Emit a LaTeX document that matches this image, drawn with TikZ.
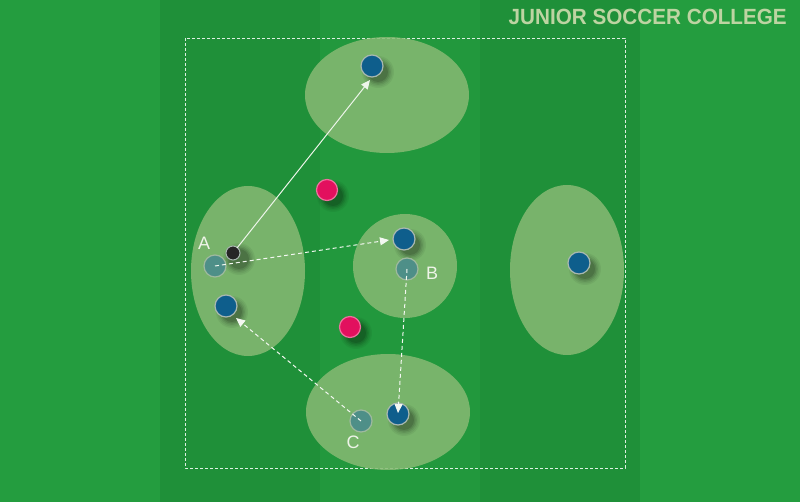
\documentclass[tikz,border=0pt]{standalone}
\usepackage{fontspec}
\setmainfont{Liberation Sans}
\usetikzlibrary{arrows.meta}
\definecolor{grassA}{HTML}{249D3F}
\definecolor{grassB}{HTML}{1F9039}
\definecolor{zone}{HTML}{88BA74}
\definecolor{player}{HTML}{0E5E8C}
\definecolor{ghost}{HTML}{4E8F88}
\definecolor{cone}{HTML}{E2105E}
\definecolor{rim}{HTML}{A8B8B0}
\definecolor{titlecol}{HTML}{BDD4A2}
\definecolor{labelcol}{HTML}{EEF4E8}
\tikzset{
  zonearea/.style={fill=zone, fill opacity=0.85, draw=none},
  playernode/.style={circle, fill=player, draw=rim, line width=1.2pt, minimum size=22pt, inner sep=0pt},
  ghostnode/.style={circle, fill=ghost, draw=rim!70!zone, line width=1.2pt, minimum size=22pt, inner sep=0pt},
  conenode/.style={circle, fill=cone, draw=cone!60!white, line width=1.2pt, minimum size=21pt, inner sep=0pt},
  ballnode/.style={circle, fill=black!85, draw=rim, line width=1pt, minimum size=14pt, inner sep=0pt},
  lbl/.style={text=labelcol, font=\fontsize{18}{18}\selectfont, inner sep=0pt},
  runarrow/.style={draw=white!90!zone, line width=1pt, dash pattern=on 4pt off 3pt, -{Triangle[length=9pt,width=8pt]}},
  passarrow/.style={draw=white!85!zone, line width=1pt, -{Triangle[length=9pt,width=8pt]}},
}
\newcommand{\dropshadow}[2]{%
  \foreach \r/\o in {16/0.05,14.5/0.06,13/0.08,11.5/0.1,10/0.12}{
    \fill[black, opacity=\o] (#1+6,#2+6) circle[radius=\r];
  }}
\begin{document}
\begin{tikzpicture}[x=1pt,y=-1pt]
\useasboundingbox (0,0) rectangle (800,502);
% grass
\fill[grassA] (0,0) rectangle (800,502);
\fill[grassB] (160,0) rectangle (320,502);
\fill[grassB] (480,0) rectangle (640,502);
\fill[grassA!60!grassB] (320,0) rectangle (480,502);
% title
\node[anchor=east, text=titlecol, inner sep=0pt] (title) at (787,17)
  {\scalebox{0.94}[1]{\fontsize{22}{22}\selectfont\bfseries JUNIOR SOCCER COLLEGE}};
% field boundary
\draw[white!85!grassA, line width=0.8pt, dash pattern=on 3pt off 2pt] (185,38) rectangle (625,468);
% zones
\fill[zonearea] (387,95) ellipse[x radius=82, y radius=58];
\fill[zonearea] (248,271) ellipse[x radius=57, y radius=85];
\fill[zonearea] (405,266) ellipse[x radius=52, y radius=52];
\fill[zonearea] (567,270) ellipse[x radius=57, y radius=85];
\fill[zonearea] (388,412) ellipse[x radius=82, y radius=58];
% shadows
\dropshadow{372}{66}
\dropshadow{404}{239}
\dropshadow{226}{306}
\dropshadow{579}{263}
\dropshadow{398}{414}
\dropshadow{327}{190}
\dropshadow{350}{327}
\dropshadow{233}{253}
% pieces
\node[playernode] (top) at (372,66) {};
\node[playernode] (mid) at (404,239) {};
\node[playernode] (low) at (226,306) {};
\node[playernode] (right) at (579,263) {};
\node[playernode] (bot) at (398,414) {};
\node[ghostnode] (A) at (215,266) {};
\node[ghostnode] (B) at (407,269) {};
\node[ghostnode] (C) at (361,421) {};
\node[conenode] (cone1) at (327,190) {};
\node[conenode] (cone2) at (350,327) {};
\node[ballnode] (ball) at (233,253) {};
% labels
\node[lbl] (la) at (204,243) {A};
\node[lbl] (lb) at (432,273) {B};
\node[lbl] (lc) at (353,442) {C};
% arrows
\coordinate (toptip) at (370,80);
\coordinate (midtip) at (389,240);
\coordinate (bottip) at (398,413);
\coordinate (lowtip) at (236,318);
\draw[passarrow] (ball.center) ++(4,-5) -- (toptip);
\draw[runarrow] (A.center) -- (midtip);
\draw[runarrow] (B.center) -- (bottip);
\draw[runarrow] (C.center) -- (lowtip);
\end{tikzpicture}
\end{document}
